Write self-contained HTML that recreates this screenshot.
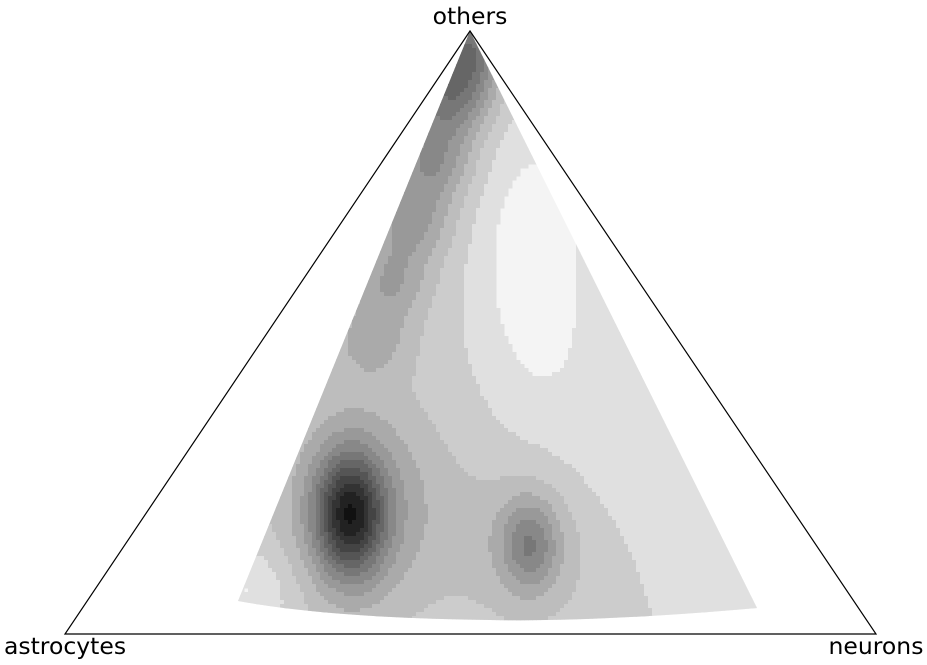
<!DOCTYPE html>
<html><head><meta charset="utf-8">
<style>
html,body{margin:0;padding:0;background:#fff;}
svg{display:block;font-family:"DejaVu Sans","Liberation Sans",sans-serif;}
</style></head>
<body>
<svg id="chart" width="927" height="665" viewBox="0 0 927 665">
<defs><clipPath id="region"><path d="M470,31 L757,608 Q600,622 490,620 Q330,618 238,601 Z"/></clipPath></defs>
<g id="cells" clip-path="url(#region)"></g>
<polygon points="65,634 876,634 470,31" fill="none" stroke="#000" stroke-width="1.2"/>
<text x="470" y="24" text-anchor="middle" font-size="23.5">others</text>
<text x="65" y="654" text-anchor="middle" font-size="23.5">astrocytes</text>
<text x="876" y="654" text-anchor="middle" font-size="23.5">neurons</text>
</svg>
<script>
// density kernel centres in ternary coords (astrocytes, neurons, others)
const peakAstro  = [0.550, 0.529, 0.353, 0.349, 0.022, 0.082, 0.154, 0.228, 0.303, 0.377, 0.110, 0.126, 0.156, 0.735];
const peakNeuron = [0.253, 0.257, 0.499, 0.495, 0.010, 0.032, 0.060, 0.085, 0.110, 0.135, 0.270, 0.569, 0.771, 0.192];
const peakOthers = [0.197, 0.214, 0.148, 0.156, 0.968, 0.886, 0.786, 0.687, 0.587, 0.488, 0.620, 0.305, 0.073, 0.073];
const peakWeight = [8, 3, 3.6, 1.5, 5.5, 4.5, 3.5, 3, 2.5, 2, -2.2, -1.2, -1, -1.5];
const peakSpreadX = [24, 55, 20, 55, 28, 28, 28, 28, 28, 28, 40, 80, 40, 30];
const peakSpreadY = [42, 75, 32, 60, 28, 28, 28, 28, 28, 28, 95, 80, 40, 30];
const baseLevel = 2.3;
const levelColors = ["#f4f4f4","#e0e0e0","#cccccc","#bdbdbd","#aaaaaa","#999999","#888888","#777777","#666666","#555555","#444444","#333333","#222222","#111111"];

const A=[65,634],N=[876,634],O=[470,31];
function tx(a,n,o){return A[0]*a+N[0]*n+O[0]*o;}
function ty(a,n,o){return A[1]*a+N[1]*n+O[1]*o;}
const px=peakAstro.map((a,i)=>tx(a,peakNeuron[i],peakOthers[i]));
const py=peakAstro.map((a,i)=>ty(a,peakNeuron[i],peakOthers[i]));
function field(x,y){
  let v=baseLevel;
  for(let i=0;i<px.length;i++){
    const dx=(x-px[i])/peakSpreadX[i],dy=(y-py[i])/peakSpreadY[i];
    v+=peakWeight[i]*Math.exp(-0.5*(dx*dx+dy*dy));
  }
  return v;
}
const g=document.getElementById('cells');
const NS="http://www.w3.org/2000/svg";
const step=4;
for(let y=28;y<625;y+=step){
  for(let x=232;x<762;x+=step){
    const v=field(x+step/2,y+step/2);
    let k=Math.max(0,Math.min(levelColors.length-1,Math.floor(v)));
    if(k===0)continue;
    const r=document.createElementNS(NS,'rect');
    r.setAttribute('x',x);r.setAttribute('y',y);
    r.setAttribute('width',step+0.5);r.setAttribute('height',step+0.5);
    r.setAttribute('fill',levelColors[k]);
    
    
    g.appendChild(r);
  }
}
const bg=document.createElementNS(NS,'rect');
bg.setAttribute('x',230);bg.setAttribute('y',25);bg.setAttribute('width',540);bg.setAttribute('height',600);
bg.setAttribute('fill',levelColors[0]);


g.insertBefore(bg,g.firstChild);
</script>
</body></html>
